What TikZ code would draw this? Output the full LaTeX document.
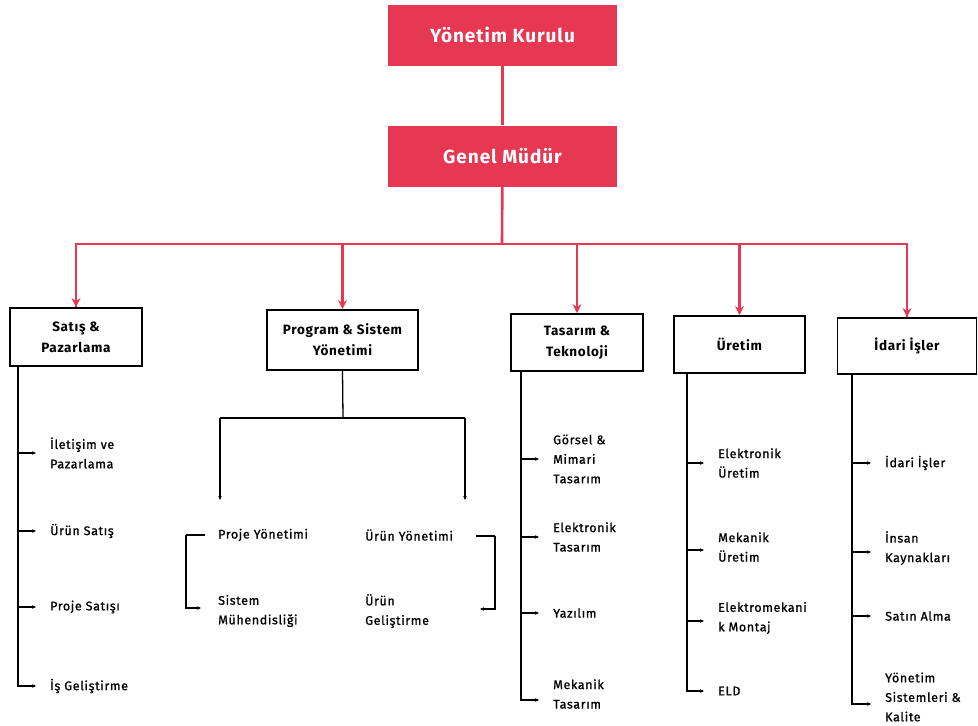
\documentclass[tikz,border=0pt]{standalone}
\usepackage{fontspec}
\setmainfont{Fira Sans}[LetterSpace=5]
\newfontfamily\itemfont{Fira Sans}[LetterSpace=5, FakeBold=1]
\newfontfamily\topfont{Fira Sans}[LetterSpace=5]
\usetikzlibrary{arrows.meta}
\definecolor{brandred}{RGB}{230,56,82}
\tikzset{
  redbox/.style={fill=brandred, draw=none, text=white, font=\topfont\fontsize{19}{21}\selectfont\bfseries, minimum width=229, minimum height=61, inner sep=0},
  redline/.style={draw=brandred, line width=2.6},
  redarrow/.style={draw=brandred, line width=2.6, -{Stealth[length=9,width=9]}},
  dbox/.style={draw=black, line width=1.8, fill=white, font=\fontsize{13.5}{21}\selectfont\bfseries, align=center, inner sep=0},
  trunk/.style={draw=black, line width=1.3},
  arr/.style={draw=black, line width=1.1, -{Stealth[length=4,width=3.5]}, shorten >=14},
  darr/.style={draw=black, line width=1.1, -{Stealth[length=4,width=3.5]}},
  item/.style={font=\itemfont\fontsize{12.5}{19.5}\selectfont, align=left, anchor=west, inner sep=0},
}
\begin{document}
\begin{tikzpicture}[x=1pt,y=-1pt]
\useasboundingbox (0,0) rectangle (978,726);
% top
\node[redbox] (yk) at (502.5,35) {Yönetim Kurulu};
\node[redbox] (gm) at (502.5,156) {Genel Müdür};
\draw[redline] (yk) -- (gm);
\coordinate (bus) at (502,244);
\draw[redline] (gm) -- (bus);
% departments
\node[dbox, minimum width=132, minimum height=58] (sp) at (76,337) {Satış \&\\Pazarlama};
\node[dbox, minimum width=151, minimum height=60] (ps) at (342.5,340) {Program \& Sistem\\Yönetimi};
\node[dbox, minimum width=132, minimum height=57] (tt) at (577,342.5) {Tasarım \&\\Teknoloji};
\node[dbox, minimum width=131, minimum height=57] (ur) at (739.5,344.5) {Üretim};
\node[dbox, minimum width=139, minimum height=56] (ii) at (907,346) {İdari İşler};
\draw[redline] (bus) -| (sp.north);
\draw[redline] (bus) -| (ii.north);
\draw[redarrow] (bus -| sp.north) -- (sp.north);
\draw[redarrow] (bus -| ps.north) -- (ps.north);
\draw[redarrow] (bus -| tt.north) -- (tt.north);
\draw[redarrow] (bus -| ur.north) -- (ur.north);
\draw[redarrow] (bus -| ii.north) -- (ii.north);
% Satış & Pazarlama
\coordinate (spt) at (18,366);
\node[item] (s1) at (50,453) {İletişim ve\\Pazarlama};
\node[item] (s2) at (50,531) {Ürün Satış};
\node[item] (s3) at (50,607) {Proje Satışı};
\node[item] (s4) at (50,686) {İş Geliştirme};
\draw[trunk] (spt) |- ([xshift=-15]s4.west);
\draw[arr] (spt |- s4.west) -- (s4.west);
\draw[arr] (spt |- s1.west) -- (s1.west);
\draw[arr] (spt |- s2.west) -- (s2.west);
\draw[arr] (spt |- s3.west) -- (s3.west);
% Program & Sistem
\coordinate (pj) at (343,418);
\coordinate (pl) at (220,418);
\coordinate (pr) at (465,418);
\coordinate (pla) at (220,500);
\coordinate (pra) at (465,500);
\draw[trunk] (ps.south) -- (pj);
\draw[trunk] (pl) -- (pr);
\draw[darr] (pl) -- (pla);
\draw[darr] (pr) -- (pra);
\node[item] (p1) at (218,535) {Proje Yönetimi};
\node[item] (p2) at (218,611) {Sistem\\Mühendisliği};
\node[item] (p3) at (365,535) {Ürün Yönetimi};
\node[item] (p4) at (365,611) {Ürün\\Geliştirme};
\coordinate (lb1) at (205,535);
\coordinate (lb2) at (186,535);
\coordinate (lb3) at (201,608);
\draw[trunk] (lb1) -- (lb2);
\draw[darr] (lb2) |- (lb3);
\coordinate (rb1) at (476,536);
\coordinate (rb2) at (495,536);
\coordinate (rb3) at (480,609);
\draw[trunk] (rb1) -- (rb2);
\draw[darr] (rb2) |- (rb3);
% Tasarım & Teknoloji
\coordinate (ttt) at (521,371);
\node[item] (t1) at (553,459) {Görsel \&\\Mimari\\Tasarım};
\node[item] (t2) at (553,537) {Elektronik\\Tasarım};
\node[item] (t3) at (553,613) {Yazılım};
\node[item] (t4) at (553,694) {Mekanik\\Tasarım};
\draw[trunk] (ttt) |- ([xshift=-15,yshift=-6]t4.west);
\draw[arr] (ttt |- t1.west) -- (t1.west);
\draw[arr] (ttt |- t2.west) -- (t2.west);
\draw[arr] (ttt |- t3.west) -- (t3.west);
\draw[arr] ([yshift=-6]ttt |- t4.west) -- ([yshift=-6]t4.west);
% Üretim
\coordinate (urt) at (687,373);
\node[item] (u1) at (718,463) {Elektronik\\Üretim};
\node[item] (u2) at (718,547) {Mekanik\\Üretim};
\node[item] (u3) at (718,618) {Elektromekani\\k Montaj};
\node[item] (u4) at (718,691) {ELD};
\draw[trunk] (urt) |- ([xshift=-15]u4.west);
\draw[arr] (urt |- u1.west) -- (u1.west);
\draw[arr] ([yshift=-3]urt |- u2.west) -- ([yshift=-3]u2.west);
\draw[arr] ([yshift=-3]urt |- u3.west) -- ([yshift=-3]u3.west);
\draw[arr] (urt |- u4.west) -- (u4.west);
% İdari İşler
\coordinate (iit) at (852,374);
\node[item] (d1) at (885,463) {İdari İşler};
\node[item] (d2) at (885,548) {İnsan\\Kaynakları};
\node[item] (d3) at (885,616) {Satın Alma};
\node[item] (d4) at (885,697) {Yönetim\\Sistemleri \&\\Kalite};
\draw[trunk] (iit) |- ([xshift=-15,yshift=-7]d4.west);
\draw[arr] (iit |- d1.west) -- (d1.west);
\draw[arr] ([yshift=-4]iit |- d2.west) -- ([yshift=-4]d2.west);
\draw[arr] (iit |- d3.west) -- (d3.west);
\draw[arr] ([yshift=-7]iit |- d4.west) -- ([yshift=-7]d4.west);
\end{tikzpicture}
\end{document}
